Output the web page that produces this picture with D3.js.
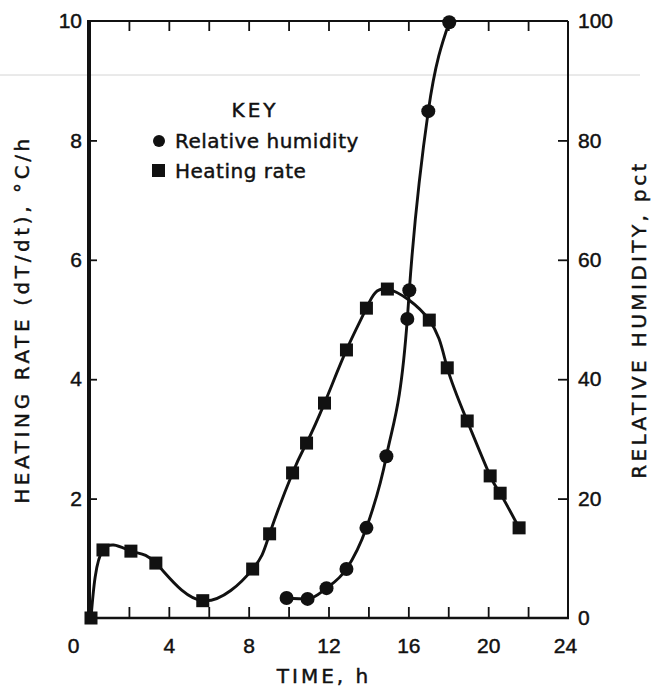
<!DOCTYPE html>
<html>
<head>
<meta charset="utf-8">
<script src="https://cdn.jsdelivr.net/npm/d3@7"></script>
<style>
  body { margin: 0; background: #fff; }
  svg { display: block; font-family: "DejaVu Sans", sans-serif; }
  svg text { stroke: #111; stroke-width: 0.45px; }
</style>
</head>
<body>
<div id="container"></div>
<script>
/* DATA */
const rateTime  = [0.1, 0.7, 2.1, 3.35, 5.7, 8.2, 9.05, 10.2, 10.9, 11.8, 12.9, 13.9, 14.95, 17.05, 17.95, 18.95, 20.1, 20.6, 21.55];
const rateValue = [0, 1.14, 1.12, 0.92, 0.29, 0.82, 1.41, 2.43, 2.93, 3.6, 4.49, 5.19, 5.51, 4.99, 4.19, 3.3, 2.38, 2.09, 1.51];
const rhTime  = [9.9, 10.95, 11.9, 12.9, 13.9, 14.9, 15.95, 16.05, 17.0, 18.05];
const rhValue = [3.35, 3.2, 5.0, 8.2, 15.1, 27.1, 50.1, 54.9, 84.9, 99.8];

const timeTicks  = [2, 4, 6, 8, 10, 12, 14, 16, 18, 20, 22];
const timeLabels = [0, 4, 8, 12, 16, 20, 24];
const rateTicks  = [2, 4, 6, 8, 10];
const rhTicks    = [0, 20, 40, 60, 80, 100];

/* CONSTANTS */
const width = 656, height = 689;
const plotLeft = 89, plotRight = 568, plotTop = 21, plotBottom = 618;

const svg = d3.select("#container")
  .append("svg")
  .attr("width", width)
  .attr("height", height)

svg.append("rect").attr("width", width).attr("height", height).attr("fill", "#fff")

/* SCALES */
const xScale = d3.scaleLinear().domain([0, 24]).range([plotLeft, plotRight])
const yRate = d3.scaleLinear().domain([0, 10]).range([plotBottom, plotTop])
const yRh = d3.scaleLinear().domain([0, 100]).range([plotBottom, plotTop])

// faint scanner line across the page
svg.append("line")
  .attr("x1", 0).attr("x2", 640).attr("y1", 75).attr("y2", 75)
  .attr("stroke", "#d4d4d4").attr("stroke-width", 1)

/* AXES */
const tickStyle = g => {
  g.select(".domain").remove()
  g.selectAll("line").attr("stroke", "#111").attr("stroke-width", 1.8)
  g.selectAll("text").attr("fill", "#111").style("font-size", "21px")
}

svg.append("g")
  .attr("transform", `translate(0, ${plotBottom})`)
  .call(d3.axisBottom(xScale).tickValues(timeTicks).tickSize(-11).tickFormat(""))
  .call(tickStyle)

svg.append("g")
  .attr("transform", `translate(0, ${plotBottom})`)
  .call(d3.axisBottom(xScale).tickValues(timeLabels).tickSize(0).tickPadding(20))
  .call(tickStyle)
  .call(g => g.selectAll(".tick text").attr("dx", d => d === 0 ? -16 : (d === 24 ? -3 : 0)))

svg.append("g")
  .attr("transform", `translate(0, ${plotTop})`)
  .call(d3.axisTop(xScale).tickValues(timeTicks).tickSize(-10).tickFormat(""))
  .call(tickStyle)

svg.append("g")
  .attr("transform", `translate(${plotLeft}, 0)`)
  .call(d3.axisLeft(yRate).tickValues(rateTicks).tickSize(-8).tickPadding(7))
  .call(tickStyle)
  .call(g => g.selectAll(".tick line").filter(d => d === 10).remove())

svg.append("g")
  .attr("transform", `translate(${plotRight}, 0)`)
  .call(d3.axisRight(yRh).tickValues(rhTicks).tickSize(-10).tickPadding(10))
  .call(tickStyle)
  .call(g => g.selectAll(".tick line").filter(d => d === 0 || d === 100).remove())

// frame
svg.append("line").attr("x1", plotLeft).attr("x2", plotRight).attr("y1", plotTop).attr("y2", plotTop)
  .attr("stroke", "#111").attr("stroke-width", 2)
svg.append("line").attr("x1", plotLeft).attr("x2", plotRight + 1).attr("y1", plotBottom).attr("y2", plotBottom)
  .attr("stroke", "#111").attr("stroke-width", 2.6)
svg.append("line").attr("x1", plotRight).attr("x2", plotRight).attr("y1", plotTop).attr("y2", plotBottom)
  .attr("stroke", "#111").attr("stroke-width", 2)
svg.append("line").attr("x1", plotLeft).attr("x2", plotLeft).attr("y1", plotTop - 1).attr("y2", plotBottom + 1)
  .attr("stroke", "#111").attr("stroke-width", 4)

/* AXIS TITLES */
svg.append("text")
  .attr("transform", `translate(29, ${(plotTop + plotBottom) / 2}) rotate(-90)`)
  .attr("text-anchor", "middle")
  .style("font-size", "20px").style("letter-spacing", "3.6px")
  .attr("fill", "#111")
  .text("HEATING RATE (dT/dt), °C/h")

svg.append("text")
  .attr("transform", `translate(646, ${(plotTop + plotBottom) / 2}) rotate(-90)`)
  .attr("text-anchor", "middle")
  .style("font-size", "20px").style("letter-spacing", "3.4px")
  .attr("fill", "#111")
  .text("RELATIVE HUMIDITY, pct")

svg.append("text")
  .attr("x", 324).attr("y", 683)
  .attr("text-anchor", "middle")
  .style("font-size", "20px").style("letter-spacing", "3px")
  .attr("fill", "#111")
  .text("TIME, h")

/* LINES */
const rateData = rateTime.map((t, i) => ({ t, v: rateValue[i] }))
const rhData = rhTime.map((t, i) => ({ t, v: rhValue[i] }))

svg.append("path")
  .datum(rateData)
  .attr("fill", "none").attr("stroke", "#111").attr("stroke-width", 2.9)
  .attr("d", d3.line().x(d => xScale(d.t)).y(d => yRate(d.v)).curve(d3.curveNatural))

svg.append("path")
  .datum(rhData)
  .attr("fill", "none").attr("stroke", "#111").attr("stroke-width", 2.9)
  .attr("d", d3.line().x(d => xScale(d.t)).y(d => yRh(d.v)).curve(d3.curveMonotoneX))

/* MARKERS */
const sq = 13
svg.selectAll(".rate")
  .data(rateData)
  .join("rect")
  .attr("class", "rate")
  .attr("x", d => xScale(d.t) - sq / 2)
  .attr("y", d => yRate(d.v) - sq / 2)
  .attr("width", sq).attr("height", sq)
  .attr("fill", "#111")

svg.selectAll(".rh")
  .data(rhData)
  .join("circle")
  .attr("class", "rh")
  .attr("cx", d => xScale(d.t))
  .attr("cy", d => yRh(d.v))
  .attr("r", 7)
  .attr("fill", "#111")

/* KEY */
const key = svg.append("g").attr("fill", "#111").style("font-size", "20px")
key.append("text").attr("x", 255).attr("y", 117).attr("text-anchor", "middle")
  .style("letter-spacing", "3px").text("KEY")
key.append("circle").attr("cx", 159).attr("cy", 141).attr("r", 6)
key.append("text").attr("x", 175).attr("y", 148).style("letter-spacing", "0.5px").text("Relative humidity")
key.append("rect").attr("x", 152).attr("y", 164).attr("width", 13).attr("height", 13)
key.append("text").attr("x", 175).attr("y", 178).style("letter-spacing", "0.5px").text("Heating rate")
</script>
</body>
</html>
